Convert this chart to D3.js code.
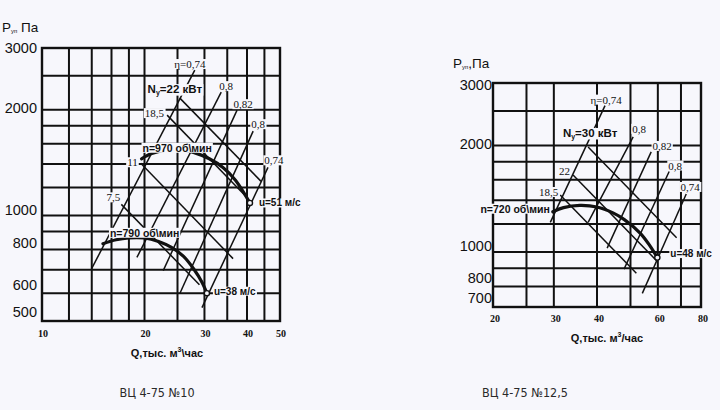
<!DOCTYPE html>
<html><head><meta charset="utf-8">
<script src="https://cdn.jsdelivr.net/npm/d3@7"></script>
<style>
html,body{margin:0;padding:0;background:#f7f7fc;}
svg{display:block;}
</style></head><body>
<svg id="c" width="720" height="410"></svg>
<script>
// ================= DATA: chart 1 (ВЦ 4-75 №10) =================
const c1Title = "ВЦ 4-75 №10";
const c1XTicks = [10, 20, 30, 40, 50];
const c1XGrid = [12, 14, 16, 18, 20, 25, 30, 35, 40, 45];
const c1YTicks = [3000, 2000, 1000, 800, 600, 500];
const c1YGrid = [600, 700, 800, 900, 1000, 1200, 1400, 1600, 1800, 2000, 2500];
const c1XTitle = "Q,тыс. м³\\час";
const c1YTitle = ["P", "уп", " Па"];
const c1SpeedLabels = ["n=970 об\\мин", "n=790 об\\мин"];
const c1Speed970Q = [19.6, 21, 23, 25, 28, 31, 34, 37, 40.8];
const c1Speed970P = [1450, 1500, 1535, 1545, 1510, 1450, 1370, 1260, 1085];
const c1Speed790Q = [15.1, 16.5, 18, 20, 22, 24, 26, 28, 29.5, 30.5];
const c1Speed790P = [830, 852, 863, 862, 842, 810, 765, 700, 645, 600];
const c1TipLabels = ["u=51 м/с", "u=38 м/с"];
const c1PowerLabels = ["22", "18,5", "11", "7,5"];
const c1PowerStart = [[25.4, 2159], [23.3, 1931], [19.5, 1408], [17.1, 1075]];
const c1PowerEnd = [[44, 1250], [40, 1125], [36.4, 753], [29, 634]];
const c1EtaLabels = ["η=0,74", "0,8", "0,82", "0,8", "0,74"];
const c1EtaTop = [[28.1, 2596], [33.6, 2246], [37.4, 1995], [41.7, 1738], [46.1, 1371]];
const c1EtaBottom = [[14.0, 706], [19.0, 759], [22.7, 696], [25.4, 599], [29.5, 546]];

// ================= DATA: chart 2 (ВЦ 4-75 №12,5) =================
const c2Title = "ВЦ 4-75 №12,5";
const c2XTicks = [20, 30, 40, 60, 80];
const c2XGrid = [25, 30, 40, 50, 60, 70];
const c2YTicks = [3000, 2000, 1000, 800, 700];
const c2YGrid = [800, 900, 1000, 1200, 1400, 1600, 1800, 2000, 2500];
const c2XTitle = "Q,тыс. м³/час";
const c2YTitle = ["P", "уп", ",Па"];
const c2SpeedLabels = ["n=720 об\\мин"];
const c2Speed720Q = [29.8, 32, 35.7, 40, 44.5, 48, 53.4, 57, 59.8];
const c2Speed720P = [1300, 1335, 1354, 1340, 1290, 1235, 1130, 1040, 965];
const c2TipLabels = ["u=48 м/с"];
const c2PowerLabels = ["30", "22", "18,5"];
const c2PowerStart = [[37.7, 1980], [34.1, 1651], [31.3, 1449]];
const c2PowerEnd = [[68, 1098], [60, 938], [52, 872]];
const c2EtaLabels = ["η=0,74", "0,8", "0,82", "0,8", "0,74"];
const c2EtaTop = [[42.2, 2590], [50.9, 2115], [57.4, 1917], [64.7, 1688], [72.5, 1459]];
const c2EtaBottom = [[29.3, 1213], [37.7, 1213], [42.8, 1026], [47.9, 895], [54.1, 765]];

// ================= LAYOUT / STYLE =================
const BG = "#f7f7fc";
const INK = "#111";
const SANS = "'Liberation Sans', Arial, sans-serif";
const SERIF = "'Liberation Serif', 'Times New Roman', serif";

const svg = d3.select("#c");
svg.append("rect").attr("width", 720).attr("height", 410).attr("fill", BG);

function labelWithBg(g, x, y, anchor, build, font) {
  const grp = g.append("g");
  const t = grp.append("text").attr("x", x).attr("y", y)
    .attr("text-anchor", anchor).attr("dominant-baseline", "central")
    .attr("font-family", font.family).attr("font-size", font.size)
    .attr("font-weight", font.weight || "normal").attr("fill", INK);
  build(t);
  const bb = t.node().getBBox();
  grp.insert("rect", "text").attr("x", bb.x - 1).attr("y", bb.y + 1)
    .attr("width", bb.width + 2).attr("height", bb.height - 2).attr("fill", BG);
  return grp;
}

function drawChart(cfg) {
  const g = svg.append("g");
  const x = d3.scaleLog().domain(cfg.xDomain).range(cfg.xRange);
  const y = d3.scaleLog().domain(cfg.yDomain).range(cfg.yRange);
  const yLab = d3.scaleLog().domain(cfg.yDomain).range(cfg.yLabelRange);
  const [x0, x1] = cfg.xRange, [yb, yt] = cfg.yRange;

  // grid
  g.selectAll(null).data(cfg.xGrid).join("line")
    .attr("x1", d => x(d)).attr("x2", d => x(d)).attr("y1", yt).attr("y2", yb)
    .attr("stroke", INK).attr("stroke-width", 2);
  g.selectAll(null).data(cfg.yGrid).join("line")
    .attr("x1", x0).attr("x2", x1).attr("y1", d => y(d)).attr("y2", d => y(d))
    .attr("stroke", INK).attr("stroke-width", 2);
  g.append("rect").attr("x", x0).attr("y", yt).attr("width", x1 - x0).attr("height", yb - yt)
    .attr("fill", "none").attr("stroke", INK).attr("stroke-width", 2.4);

  // tick labels
  g.selectAll(null).data(cfg.yTicks).join("text")
    .attr("x", cfg.yLabelX).attr("y", d => yLab(d)).attr("text-anchor", "end")
    .attr("dominant-baseline", "central").attr("font-family", SANS).attr("font-size", 14.5)
    .attr("fill", INK).text(d => d);
  g.selectAll(null).data(cfg.xTicks).join("text")
    .attr("x", d => x(d) + cfg.xLabelDx).attr("y", cfg.xLabelY).attr("text-anchor", "middle")
    .attr("dominant-baseline", "central").attr("font-family", SERIF).attr("font-size", 10)
    .attr("font-weight", "bold").attr("fill", INK).text(d => d);

  // axis titles
  const xt = g.append("text").attr("x", cfg.xTitlePos[0]).attr("y", cfg.xTitlePos[1])
    .attr("text-anchor", "middle").attr("dominant-baseline", "central")
    .attr("font-family", SANS).attr("font-size", 11).attr("font-weight", "bold").attr("fill", INK);
  const parts = cfg.xTitle.split("³");
  xt.append("tspan").text(parts[0]);
  xt.append("tspan").attr("font-size", 7).attr("dy", -4).text("3");
  xt.append("tspan").attr("dy", 4).text(parts[1]);

  const yt2 = g.append("text").attr("x", cfg.yTitlePos[0]).attr("y", cfg.yTitlePos[1])
    .attr("dominant-baseline", "central").attr("font-family", SANS).attr("font-size", 13.5).attr("fill", INK);
  yt2.append("tspan").text(cfg.yTitle[0]);
  yt2.append("tspan").attr("font-size", 6).attr("dy", 4).text(cfg.yTitle[1]);
  yt2.append("tspan").attr("dy", -4).text(cfg.yTitle[2]);

  const P = d => [x(d[0]), y(d[1])];
  const seg = d3.line();

  // efficiency lines
  cfg.etaTop.forEach((t, i) => {
    g.append("path").attr("d", seg([P(cfg.etaBottom[i]), P(t)]))
      .attr("stroke", INK).attr("stroke-width", 1.5).attr("fill", "none");
  });
  // power lines
  cfg.powerStart.forEach((s, i) => {
    g.append("path").attr("d", seg([P(s), P(cfg.powerEnd[i])]))
      .attr("stroke", INK).attr("stroke-width", 1.5).attr("fill", "none");
  });
  // speed curves
  const curve = d3.line().curve(d3.curveCatmullRom.alpha(0.5));
  cfg.speeds.forEach(sp => {
    const pts = sp.Q.map((q, i) => P([q, sp.P[i]]));
    g.append("path").attr("d", curve(pts)).attr("stroke", INK).attr("stroke-width", 3.2)
      .attr("fill", "none").attr("stroke-linecap", "round");
  });

  // labels
  cfg.etaLabels.forEach((lab, i) => {
    const p = P(cfg.etaTop[i]), o = cfg.etaOff[i];
    labelWithBg(g, p[0] + o[0], p[1] + o[1], "middle", t => t.text(lab), {family: SERIF, size: 11});
  });
  cfg.powerLabels.forEach((lab, i) => {
    const p = P(cfg.powerStart[i]), o = cfg.powerOff[i];
    if (i === 0) {
      labelWithBg(g, p[0] + o[0], p[1] + o[1], "middle", t => {
        t.append("tspan").text("N");
        t.append("tspan").attr("font-size", 7).attr("dy", 3).text("у");
        t.append("tspan").attr("dy", -3).text("=" + lab + " кВт");
      }, {family: SANS, size: 11.5, weight: "bold"});
    } else {
      labelWithBg(g, p[0] + o[0], p[1] + o[1], "end", t => t.text(lab), {family: SERIF, size: 11});
    }
  });
  cfg.speeds.forEach((sp, i) => {
    const p0 = P([sp.Q[0], sp.P[0]]), o = cfg.speedOff[i];
    labelWithBg(g, p0[0] + o[0], p0[1] + o[1], o[2], t => t.text(cfg.speedLabels[i]),
      {family: SANS, size: 10.5, weight: "bold"});
    const n = sp.Q.length - 1, pe = P([sp.Q[n], sp.P[n]]), to = cfg.tipOff[i];
    g.append("circle").attr("cx", pe[0]).attr("cy", pe[1]).attr("r", 2.6)
      .attr("fill", BG).attr("stroke", INK).attr("stroke-width", 1.4);
    labelWithBg(g, pe[0] + to[0], pe[1] + to[1], "start", t => t.text(cfg.tipLabels[i]),
      {family: SANS, size: 10, weight: "bold"});
  });

  // title
  svg.append("text").attr("x", cfg.titlePos[0]).attr("y", cfg.titlePos[1])
    .attr("text-anchor", "middle").attr("dominant-baseline", "central")
    .attr("font-family", "'DejaVu Sans Condensed', 'DejaVu Sans', sans-serif").attr("font-size", 12.5)
    .attr("fill", "#2a2a2a").text(cfg.title);
}

drawChart({
  title: c1Title, titlePos: [157, 392],
  xDomain: [10, 50], xRange: [42, 280], yDomain: [500, 3000], yRange: [321, 48],
  yLabelRange: [312, 48], yLabelX: 37, xLabelY: 333, xLabelDx: 1,
  xTicks: c1XTicks, xGrid: c1XGrid, yTicks: c1YTicks, yGrid: c1YGrid,
  xTitle: c1XTitle, xTitlePos: [167, 353], yTitle: c1YTitle, yTitlePos: [2, 27],
  speeds: [{Q: c1Speed970Q, P: c1Speed970P}, {Q: c1Speed790Q, P: c1Speed790P}],
  speedLabels: c1SpeedLabels, speedOff: [[1, -11, "start"], [7, -11, "start"]],
  tipLabels: c1TipLabels, tipOff: [[9, 0], [7, -2]],
  powerLabels: c1PowerLabels, powerStart: c1PowerStart, powerEnd: c1PowerEnd,
  powerOff: [[-5, -9], [-3, -2], [-3, -1], [-1, -7]],
  etaLabels: c1EtaLabels, etaTop: c1EtaTop, etaBottom: c1EtaBottom,
  etaOff: [[-5, -6], [5, -6], [6, -6], [5, -7], [6, -7]]
});

drawChart({
  title: c2Title, titlePos: [525, 392],
  xDomain: [20, 80], xRange: [493, 701], yDomain: [700, 3000], yRange: [307, 83],
  yLabelRange: [298, 85], yLabelX: 492, xLabelY: 318, xLabelDx: 2,
  xTicks: c2XTicks, xGrid: c2XGrid, yTicks: c2YTicks, yGrid: c2YGrid,
  xTitle: c2XTitle, xTitlePos: [607, 338], yTitle: c2YTitle, yTitlePos: [453, 63],
  speeds: [{Q: c2Speed720Q, P: c2Speed720P}],
  speedLabels: c2SpeedLabels, speedOff: [[-3, -3, "end"]],
  tipLabels: c2TipLabels, tipOff: [[13, -4]],
  powerLabels: c2PowerLabels, powerStart: c2PowerStart, powerEnd: c2PowerEnd,
  powerOff: [[2, -14], [-3, -4], [-2, -3]],
  etaLabels: c2EtaLabels, etaTop: c2EtaTop, etaBottom: c2EtaBottom,
  etaOff: [[1, -6], [6, -8], [11, -6], [6, -6], [4, -7]]
});
</script>
</body></html>
